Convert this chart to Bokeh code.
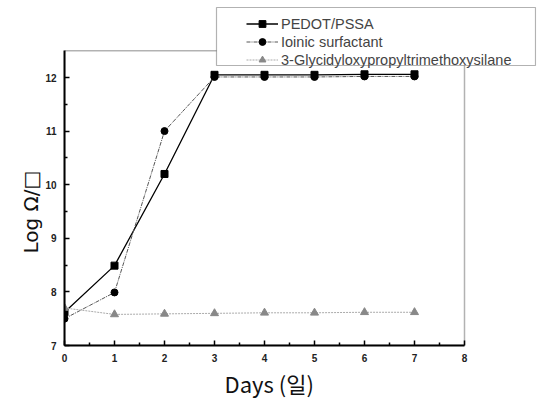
from bokeh.plotting import figure
from bokeh.models import Legend, LegendItem, FixedTicker, Range1d, BoxAnnotation, Title
from bokeh.embed import file_html
from bokeh.resources import INLINE

days = [0, 1, 2, 3, 4, 5, 6, 7]
pedot = [7.62, 8.49, 10.2, 12.05, 12.05, 12.05, 12.06, 12.06]
ionic = [7.5, 7.99, 11.0, 12.01, 12.01, 12.01, 12.02, 12.02]
silane = [7.7, 7.58, 7.59, 7.6, 7.61, 7.61, 7.62, 7.62]
names = ["PEDOT/PSSA", "Ioinic surfactant", "3-Glycidyloxypropyltrimethoxysilane"]
x_ticks = [0, 1, 2, 3, 4, 5, 6, 7, 8]
y_ticks = [7, 8, 9, 10, 11, 12]
x_lo, x_hi = 0, 8
y_lo, y_hi = 7, 12.5

# layout in pixels
W, H = 537, 404
LEFT, RIGHT, TOP, BOTTOM = 64, 1, 5, 59
PX_X = 50.0     # pixels per day
PX_Y = 53.6     # pixels per log unit
frame_w = W - LEFT - RIGHT
frame_h = H - TOP - BOTTOM

def dx(px):  # canvas x pixel -> data x
    return x_lo + (px - LEFT) / PX_X

def dy(py):  # canvas y pixel -> data y
    return y_lo + (H - BOTTOM - py) / PX_Y

p = figure(width=W, height=H, output_backend="svg", toolbar_location=None,
           x_range=Range1d(x_lo, dx(W - RIGHT)), y_range=Range1d(y_lo, dy(TOP)),
           min_border_left=LEFT, min_border_right=RIGHT, min_border_top=TOP,
           min_border_bottom=BOTTOM)
p.xgrid.visible = False
p.ygrid.visible = False
p.outline_line_color = None
p.background_fill_color = "white"
p.border_fill_color = "white"

# plot box (top and right edges)
p.add_layout(BoxAnnotation(left=x_lo, right=x_hi, bottom=y_lo, top=y_hi,
                           fill_alpha=0, line_color="black", line_width=1.5))

r1l = p.line(days, pedot, line_color="black", line_width=1.3)
r1m = p.scatter(days, pedot, marker="square", size=7, fill_color="black", line_color="black")
r2l = p.line(days, ionic, line_color="#555555", line_width=1, line_dash="4 1 1 1")
r2m = p.scatter(days, ionic, marker="circle", size=7, fill_color="black", line_color="black")
r3l = p.line(days, silane, line_color="#aaaaaa", line_width=1, line_dash="2 1")
r3m = p.scatter(days, silane, marker="triangle", size=8, fill_color="#888888", line_color="#888888")

for ax in (p.xaxis[0], p.yaxis[0]):
    ax.axis_line_color = "black"
    ax.axis_line_width = 2
    ax.major_tick_in = 5
    ax.major_tick_out = 0
    ax.minor_tick_in = 3
    ax.minor_tick_out = 0
    ax.major_tick_line_width = 1.5
    ax.minor_tick_line_width = 1.5
    ax.major_label_text_font = "Liberation Sans"
    ax.major_label_text_font_style = "bold"
    ax.major_label_text_font_size = "10px"
    ax.major_label_text_color = "#222222"

p.xaxis.bounds = (x_lo, x_hi)
p.yaxis.bounds = (y_lo, y_hi)
p.xaxis.ticker = FixedTicker(ticks=x_ticks, minor_ticks=[i + 0.5 for i in range(8)])
p.yaxis.ticker = FixedTicker(ticks=y_ticks, minor_ticks=[i + 0.5 for i in range(7, 12)])
p.xaxis.major_label_standoff = 8
p.yaxis.major_label_standoff = 8

xt = Title(text="Days (일)", align="left", offset=160,
           text_font="Noto Sans CJK KR", text_font_size="22px",
           text_font_style="normal", text_color="#111111", standoff=0)
p.add_layout(xt, "below")
yt = Title(text="Log Ω/□", align="left", offset=92,
           text_font="DejaVu Sans", text_font_size="20px",
           text_font_style="normal", text_color="#111111", standoff=0)
p.add_layout(yt, "left")

# legend frame
p.add_layout(BoxAnnotation(left=dx(216), right=dx(535), bottom=dy(65), top=dy(7),
                           fill_color="white", fill_alpha=1,
                           line_color="black", line_width=1.2))

legend = Legend(items=[
    LegendItem(label=names[0], renderers=[r1l, r1m]),
    LegendItem(label=names[1], renderers=[r2l, r2m]),
    LegendItem(label=names[2], renderers=[r3l, r3m]),
], location=(246 - LEFT, (H - BOTTOM) - 68))
legend.border_line_color = None
legend.background_fill_alpha = 0
legend.label_text_font = "Liberation Sans"
legend.label_text_font_size = "14.5px"
legend.label_height = 17
legend.glyph_height = 17
legend.glyph_width = 32
legend.spacing = 1
legend.padding = 4
legend.margin = 0
legend.label_standoff = 3
p.add_layout(legend, "center")

open("out.html", "w").write(file_html(p, INLINE))
